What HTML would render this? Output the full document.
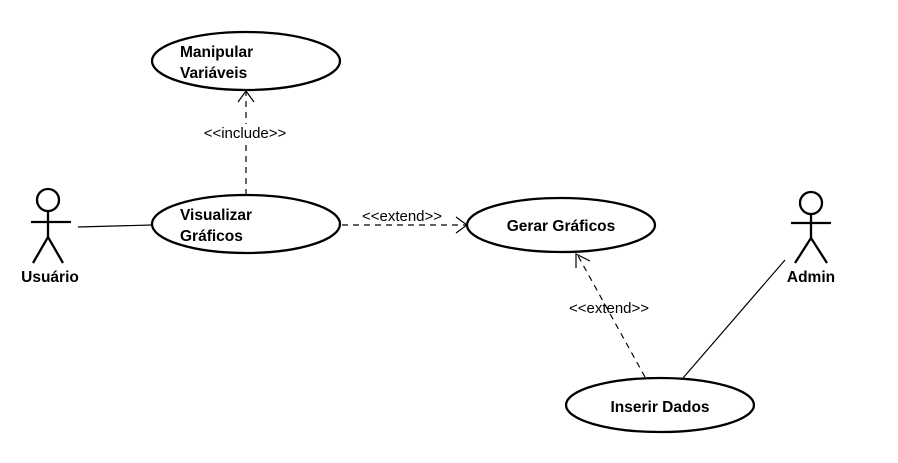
<!DOCTYPE html>
<html><head><meta charset="utf-8"><style>body{margin:0;background:#fff}svg{display:block}</style></head>
<body>
<svg width="898" height="463" viewBox="0 0 898 463" xmlns="http://www.w3.org/2000/svg" font-family="Liberation Sans, Arial, sans-serif">
<rect width="898" height="463" fill="#fff"/>
<g fill="#fff" stroke="#000" stroke-width="2.3">
<ellipse cx="246" cy="61" rx="94" ry="29"/>
<ellipse cx="246" cy="224" rx="94" ry="29"/>
<ellipse cx="561" cy="225" rx="94" ry="27"/>
<ellipse cx="660" cy="405" rx="94" ry="27"/>
</g>
<g font-weight="bold" font-size="15.5" fill="#000">
<text x="180" y="57">Manipular</text>
<text x="180" y="78">Variáveis</text>
<text x="180" y="220">Visualizar</text>
<text x="180" y="241">Gráficos</text>
<text x="561" y="231" text-anchor="middle">Gerar Gráficos</text>
<text x="660" y="412" text-anchor="middle">Inserir Dados</text>
<text x="50" y="282" text-anchor="middle">Usuário</text>
<text x="811" y="282" text-anchor="middle">Admin</text>
</g>
<g stroke="#000" stroke-width="2.3" fill="none">
<circle cx="48" cy="200" r="11"/>
<line x1="31" y1="222" x2="71" y2="222"/>
<line x1="48" y1="211" x2="48" y2="237"/>
<polyline points="33,263 48,237 63,263"/>
<circle cx="811" cy="203" r="11"/>
<line x1="791" y1="223" x2="831" y2="223"/>
<line x1="811" y1="214" x2="811" y2="238"/>
<polyline points="795,263 811,238 827,263"/>
</g>
<g stroke="#000" stroke-width="1.2" fill="none">
<line x1="78" y1="227" x2="152" y2="225"/>
<line x1="785" y1="260" x2="683" y2="378"/>
<g stroke-dasharray="6,5">
<line x1="246" y1="195" x2="246" y2="92"/>
<line x1="342" y1="225" x2="466" y2="225"/>
<line x1="645" y1="377" x2="577" y2="254"/>
</g>
<polyline points="238,102 246,91 254,102"/>
<polyline points="456,217 467,225 456,233"/>
<polyline points="576,268 576,254 590,261"/>
</g>
<g font-size="15" fill="#000" text-anchor="middle">
<rect x="201" y="124" width="88" height="17" fill="#fff"/>
<text x="245" y="138">&lt;&lt;include&gt;&gt;</text>
<text x="402" y="221">&lt;&lt;extend&gt;&gt;</text>
<text x="609" y="313">&lt;&lt;extend&gt;&gt;</text>
</g>
</svg>
</body></html>
